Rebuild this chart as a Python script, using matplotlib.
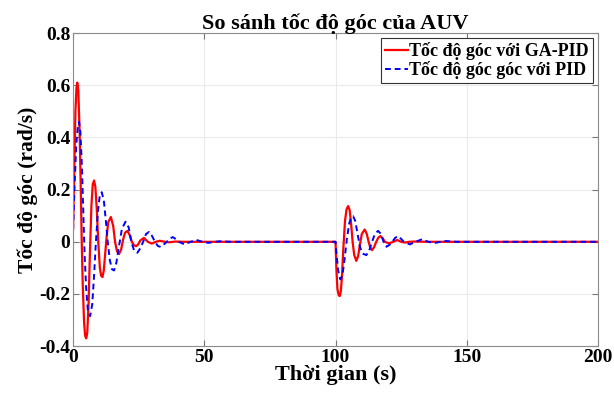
import numpy as np
import matplotlib
matplotlib.use("Agg")
from matplotlib import pyplot as plt

plt.rcParams['font.family'] = ['Liberation Serif', 'DejaVu Serif']
plt.rcParams['font.weight'] = 'bold'

# values
t_ga = [0.0, 0.5, 0.9, 1.3, 1.6, 2.0, 2.5, 3.0, 3.3, 3.7, 4.2, 4.6, 5.0, 5.4, 5.9, 6.4,
        7.0, 7.5, 8.0, 8.5, 9.0, 9.6, 10.2, 10.7, 11.2, 11.7, 12.2, 12.8, 13.4, 14.4,
        15.3, 16.0, 16.7, 17.5, 18.3, 19.1, 19.8, 20.7, 21.6, 22.4, 23.2, 24.0, 24.8,
        25.6, 27.0, 28.5, 30.0, 31.5, 33.0, 35.0, 36.5, 39.0, 42.0,
        100.0, 100.3, 100.7, 101.2, 101.6, 102.0, 102.4, 103.0, 103.6, 104.2, 104.8,
        105.4, 106.0, 106.5, 107.1, 107.9, 108.6, 109.3, 110.0, 111.1, 111.9, 112.6,
        113.2, 113.9, 114.7, 115.5, 116.3, 117.1, 117.9, 118.8, 120.4, 122.0, 123.5,
        125.0, 126.5, 128.0, 130.0, 135.0, 200.0]
w_ga = [0.05, 0.30, 0.50, 0.59, 0.61, 0.58, 0.42, 0.17, 0.0, -0.17, -0.31, -0.36, -0.37,
        -0.35, -0.24, -0.05, 0.14, 0.22, 0.235, 0.21, 0.13, 0.0, -0.10, -0.13, -0.135,
        -0.11, -0.05, 0.02, 0.075, 0.095, 0.06, 0.0, -0.035, -0.047, -0.03, 0.01, 0.035,
        0.042, 0.025, 0.0, -0.013, -0.017, -0.01, 0.005, 0.015, 0.0, -0.007, 0.0, 0.004,
        0.0, -0.002, 0.001, 0.0,
        0.0, -0.10, -0.18, -0.205, -0.208, -0.19, -0.14, -0.02, 0.08, 0.125, 0.137,
        0.12, 0.06, 0.0, -0.05, -0.073, -0.055, -0.01, 0.03, 0.047, 0.03, 0.0,
        -0.022, -0.032, -0.02, 0.0, 0.016, 0.022, 0.014, 0.0, -0.006, 0.0, 0.007,
        0.0, -0.003, 0.0, 0.001, 0.0, 0.0]

t_pid = [0.0, 0.6, 1.2, 1.8, 2.3, 2.8, 3.4, 4.0, 4.4, 5.0, 5.6, 6.5, 7.3, 8.0, 8.7, 9.5,
         10.2, 10.9, 11.7, 12.5, 13.2, 14.0, 14.8, 15.6, 16.5, 17.4, 17.8, 18.6, 20.0,
         21.2, 22.2, 23.3, 24.5, 25.6, 26.7, 27.8, 29.0, 30.1, 31.2, 32.3, 33.4, 34.6,
         35.7, 36.9, 38.0, 39.2, 40.3, 42.5, 44.8, 47.0, 49.3, 51.5, 53.8, 56.0, 60.0,
         100.0, 100.4, 101.0, 101.8, 102.6, 103.4, 104.3, 105.2, 106.0, 106.7, 107.5,
         108.4, 109.3, 110.3, 111.7, 112.8, 113.9, 115.0, 116.2, 117.3, 118.3, 119.4,
         120.5, 121.6, 122.7, 123.8, 124.9, 126.0, 128.3, 130.5, 133.0, 135.3, 137.5,
         140.0, 142.0, 146.0, 200.0]
w_pid = [0.045, 0.22, 0.37, 0.44, 0.46, 0.42, 0.28, 0.08, -0.05, -0.18, -0.26, -0.285,
         -0.24, -0.13, 0.0, 0.12, 0.18, 0.19, 0.16, 0.08, 0.0, -0.07, -0.105, -0.11,
         -0.08, -0.02, 0.0, 0.05, 0.077, 0.055, 0.0, -0.035, -0.042, -0.025, 0.0, 0.03,
         0.038, 0.022, 0.0, -0.016, -0.02, -0.01, 0.0, 0.013, 0.018, 0.01, 0.0, -0.01,
         0.0, 0.007, 0.0, -0.004, 0.0, 0.002, 0.0,
         0.0, -0.05, -0.11, -0.144, -0.13, -0.07, 0.01, 0.07, 0.095, 0.098, 0.08,
         0.03, -0.02, -0.045, -0.051, -0.035, 0.0, 0.03, 0.042, 0.03, 0.0, -0.019,
         -0.012, 0.0, 0.015, 0.022, 0.012, 0.0, -0.01, 0.0, 0.01, 0.0, -0.005,
         0.0, 0.003, 0.0, 0.0]

fig = plt.figure(figsize=(6.14, 4.03), dpi=100)
ax = fig.add_axes([0.119, 0.141, 0.855, 0.777])

ax.plot(t_ga, w_ga, color='#ff0000', linewidth=1.6, label='Tốc độ góc với GA-PID')
ax.plot(t_pid, w_pid, color='#0000ff', linewidth=1.4, linestyle=(0, (3, 2)),
        label='Tốc độ góc góc với PID')

ax.set_xlim(0, 200)
ax.set_ylim(-0.4, 0.8)
ax.set_xticks([0, 50, 100, 150, 200])
ax.set_yticks([-0.4, -0.2, 0, 0.2, 0.4, 0.6, 0.8])
ax.set_yticklabels(['-0.4', '-0.2', '0', '0.2', '0.4', '0.6', '0.8'])
ax.grid(True, color='#ebebeb', linewidth=0.8)
ax.set_axisbelow(True)
ax.tick_params(direction='in', labelsize=14, length=4, color='#777777',
               top=True, right=True, pad=2)
for lbl in ax.get_xticklabels() + ax.get_yticklabels():
    lbl.set_fontweight('bold')
for s in ax.spines.values():
    s.set_color('#8c8c8c')
    s.set_linewidth(0.8)

ax.set_title('So sánh tốc độ góc của AUV', fontsize=16, fontweight='bold', pad=3)
ax.set_xlabel('Thời gian (s)', fontsize=16, fontweight='bold', labelpad=-1)
ax.set_ylabel('Tốc độ góc (rad/s)', fontsize=15.5, fontweight='bold', labelpad=1)

leg = ax.legend(loc='upper right', fontsize=13, fancybox=False, framealpha=1,
                edgecolor='#333333', handlelength=1.3, handletextpad=0.05,
                borderpad=0.2, labelspacing=0.05, borderaxespad=0.3)
leg.get_frame().set_linewidth(0.8)
for txt in leg.get_texts():
    txt.set_fontweight('bold')

plt.savefig("out.png", dpi=100)
